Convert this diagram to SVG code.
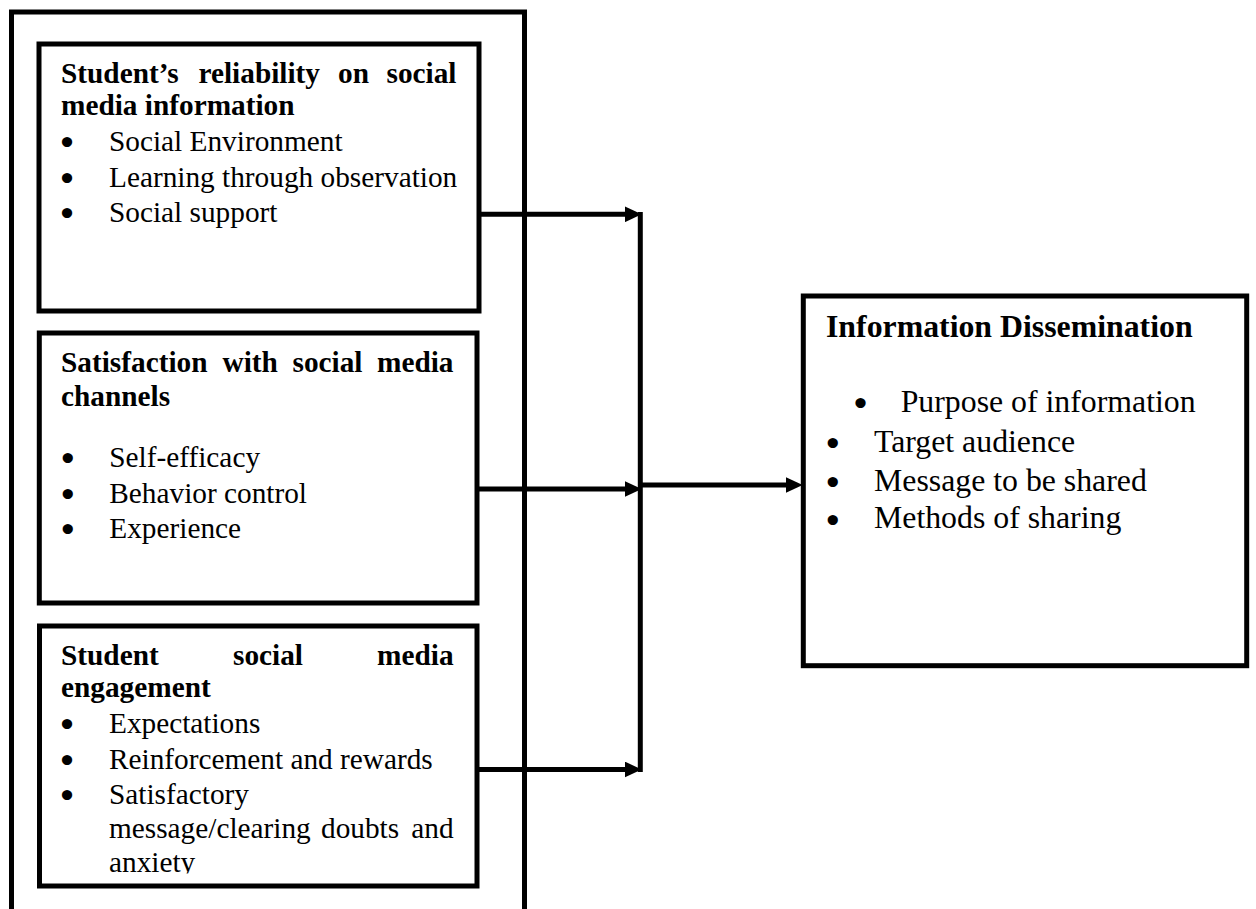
<svg xmlns="http://www.w3.org/2000/svg" width="1256" height="909" viewBox="0 0 1256 909">
<defs>
<style>
.box{fill:#fff;stroke:#000;stroke-width:5}
.ln{fill:none;stroke:#000;stroke-width:5}
.t{font-family:"Liberation Serif","Times New Roman",serif;font-size:29.3px;fill:#000}
.r{font-family:"Liberation Serif","Times New Roman",serif;font-size:31.8px;fill:#000}
.b{font-weight:bold}
.bul{font-family:"DejaVu Sans",sans-serif;font-size:29px;font-weight:bold;fill:#000;text-anchor:middle}
.e{text-anchor:end}
</style>
<marker id="ah" markerUnits="userSpaceOnUse" markerWidth="17" markerHeight="16" refX="7" refY="8" orient="auto" viewBox="0 0 17 16"><path d="M0,0 L17,8 L0,16 z" fill="#000"/></marker>
<clipPath id="c3"><rect x="40" y="628" width="436" height="245.5"/></clipPath>
</defs>
<rect width="1256" height="909" fill="#fff"/>
<g id="outer">
<path class="ln" d="M11.5,915 V12 H524.5 V915"/>
</g>
<g id="n1">
<rect class="box" x="39" y="44" width="440" height="267"/>
<text class="t b" x="61" y="83.3">Student’s</text>
<text class="t b" x="198.5" y="83.3">reliability</text>
<text class="t b" x="338" y="83.3">on</text>
<text class="t b e" x="456.5" y="83.3">social</text>
<text class="t b" x="61" y="115">media information</text>
<text class="bul" x="67" y="153">•</text>
<text class="t" x="109" y="150.7">Social Environment</text>
<text class="bul" x="67" y="189">•</text>
<text class="t" x="109" y="186.7">Learning through observation</text>
<text class="bul" x="67" y="224">•</text>
<text class="t" x="109" y="221.7">Social support</text>
</g>
<g id="n2">
<rect class="box" x="39.3" y="333" width="437.7" height="270"/>
<text class="t b" x="61" y="371.7">Satisfaction</text>
<text class="t b" x="222.5" y="371.7">with</text>
<text class="t b" x="292.5" y="371.7">social</text>
<text class="t b e" x="453.5" y="371.7">media</text>
<text class="t b" x="61" y="406">channels</text>
<text class="bul" x="67.7" y="469">•</text>
<text class="t" x="109.3" y="466.7">Self-efficacy</text>
<text class="bul" x="67.7" y="505">•</text>
<text class="t" x="109.3" y="502.7">Behavior control</text>
<text class="bul" x="67.7" y="540.3">•</text>
<text class="t" x="109.3" y="538">Experience</text>
</g>
<g id="n3">
<rect class="box" x="39.5" y="626" width="437.5" height="260"/>
<g clip-path="url(#c3)">
<text class="t b" x="61" y="665">Student</text>
<text class="t b" x="233" y="665">social</text>
<text class="t b e" x="453.6" y="665">media</text>
<text class="t b" x="61" y="697">engagement</text>
<text class="bul" x="67" y="735.3">•</text>
<text class="t" x="109" y="733">Expectations</text>
<text class="bul" x="67" y="771.3">•</text>
<text class="t" x="109" y="769">Reinforcement and rewards</text>
<text class="bul" x="67" y="806.3">•</text>
<text class="t" x="109" y="804">Satisfactory</text>
<text class="t" x="109" y="838">message/clearing</text>
<text class="t" x="321" y="838">doubts</text>
<text class="t e" x="453.6" y="838">and</text>
<text class="t" x="109" y="872">anxiety</text>
</g>
</g>
<g id="n4">
<rect class="box" x="803.3" y="296" width="443.4" height="369.7"/>
<text class="r b" x="826" y="336.7">Information Dissemination</text>
<text class="bul" x="860.5" y="414">•</text>
<text class="r" x="900.7" y="411.7">Purpose of information</text>
<text class="bul" x="832.8" y="454">•</text>
<text class="r" x="874" y="451.7">Target audience</text>
<text class="bul" x="832.8" y="493">•</text>
<text class="r" x="874" y="490.7">Message to be shared</text>
<text class="bul" x="832.8" y="530.6">•</text>
<text class="r" x="874" y="528.3">Methods of sharing</text>
</g>
<g id="connectors">
<path class="ln" d="M479,214.3 H631.7" marker-end="url(#ah)"/>
<path class="ln" d="M477,489 H631.7" marker-end="url(#ah)"/>
<path class="ln" d="M477,769.5 H631.7" marker-end="url(#ah)"/>
<path class="ln" d="M640.3,212 V772"/>
<path class="ln" d="M640,485 H792.7" stroke-width="5.5" marker-end="url(#ah)"/>
</g>
</svg>
